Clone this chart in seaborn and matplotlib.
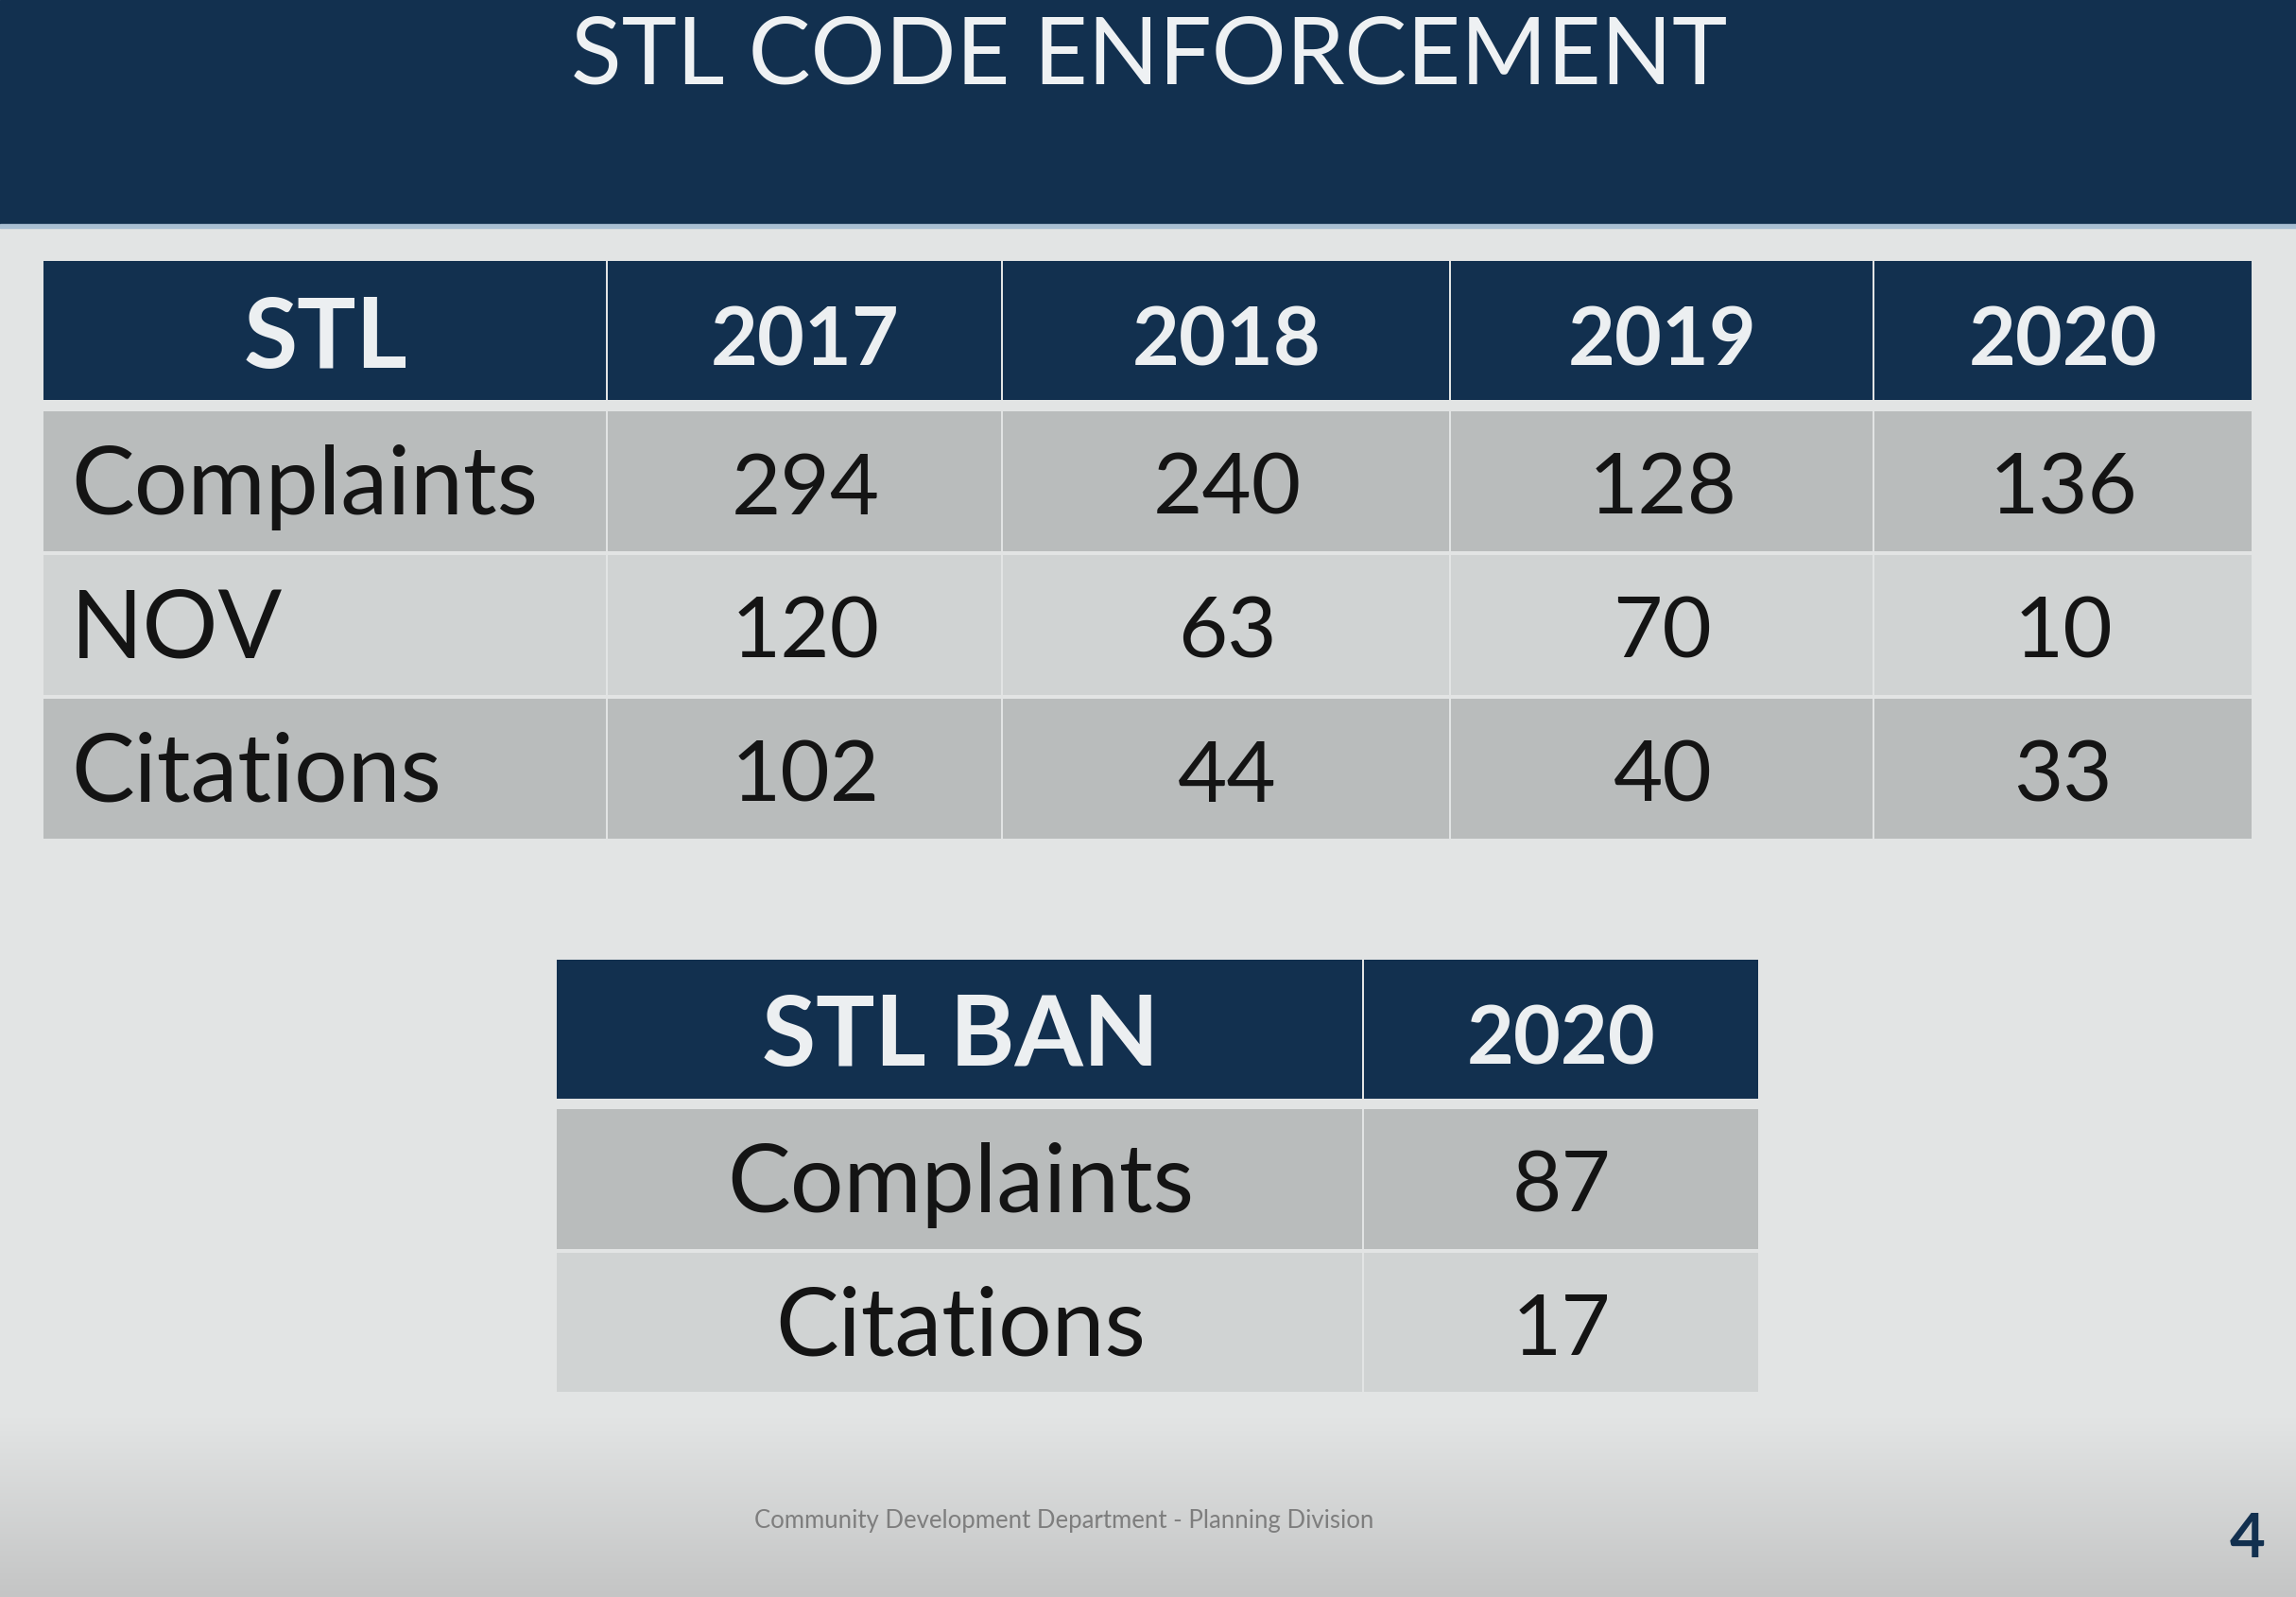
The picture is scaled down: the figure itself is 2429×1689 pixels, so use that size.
import numpy as np
import matplotlib.pyplot as plt
from matplotlib.colors import ListedColormap, LinearSegmentedColormap
from matplotlib.patches import Rectangle
import seaborn as sns

# ---- data ----
title = "STL CODE ENFORCEMENT"
footer = "Community Development Department - Planning Division"
page_number = "4"

stl_header = "STL"
years = ["2017", "2018", "2019", "2020"]
measures = ["Complaints", "NOV", "Citations"]
complaints = [294, 240, 128, 136]
nov = [120, 63, 70, 10]
citations = [102, 44, 40, 33]

ban_header = "STL BAN"
ban_years = ["2020"]
ban_measures = ["Complaints", "Citations"]
ban_values = [87, 17]

# ---- style ----
NAVY = "#12304f"
DARK = "#b9bcbc"
LIGHT = "#d0d3d3"
BG = "#e2e4e4"
HEAD_TXT = "#eceff1"
BODY_TXT = "#141414"
shade_cmap = ListedColormap([NAVY, DARK, LIGHT])  # 0 header, 1 dark row, 2 light row

W, H, DPI = 2429, 1689, 100
LW = 4 * 72 / DPI   # 4px gaps between cells
PAD = 2

sns.set_theme(style="white")
plt.rcParams["font.family"] = ["Lato", "DejaVu Sans"]

fig = plt.figure(figsize=(W / DPI, H / DPI), dpi=DPI)
fig.patch.set_facecolor(BG)

bg = fig.add_axes([0, 0, 1, 1])
bg.imshow(np.linspace(0, 1, 256).reshape(-1, 1), extent=[0, W, H, 1500], aspect="auto",
          cmap=LinearSegmentedColormap.from_list("fade", [BG, "#c4c5c5"]), zorder=0)
bg.set_xlim(0, W)
bg.set_ylim(H, 0)
bg.axis("off")

# title band
bg.add_patch(Rectangle((0, 0), W, 240, color=NAVY, zorder=1))
bg.add_patch(Rectangle((0, 237), W, 4, color="#a9bfd3", zorder=1))
bg.text(1216, 88, title, ha="center", va="baseline", fontsize=71, color="#eef1f3", zorder=2)

# footer
bg.text(1126, 1616, footer, ha="center", va="baseline", fontsize=18.5, color="#7e7e7e", zorder=2)
bg.text(2378, 1647, page_number, ha="center", va="baseline", fontsize=47,
        fontweight="bold", color=NAVY, zorder=2)


def cell_axes(x0, x1, y0, y1):
    return fig.add_axes([(x0 - PAD) / W, 1 - (y1 + PAD) / H,
                         (x1 - x0 + 2 * PAD) / W, (y1 - y0 + 2 * PAD) / H])


def draw_block(x0, x1, y0, y1, texts, shades, size, weight, color, base_px,
               ha="center", left_px=0):
    ax = cell_axes(x0, x1, y0, y1)
    n = len(texts)
    sns.heatmap(np.array(shades).reshape(n, 1),
                annot=np.array([str(t) for t in texts], dtype=object).reshape(n, 1),
                fmt="", cmap=shade_cmap, vmin=-0.5, vmax=2.5, cbar=False,
                linewidths=LW, linecolor=BG, xticklabels=False, yticklabels=False,
                annot_kws={"fontsize": size, "fontweight": weight, "color": color}, ax=ax)
    per_px_y = n / (y1 - y0 + 2 * PAD)
    per_px_x = 1 / (x1 - x0 + 2 * PAD)
    for t in ax.texts:
        tx, ty = t.get_position()
        t.set_va("baseline")
        t.set_y(ty + base_px * per_px_y)
        if ha == "left":
            t.set_ha("left")
            t.set_x(left_px * per_px_x)
    return ax


# ---- table 1: STL ----
T1_X = [46, 643, 1061, 1535, 1983, 2382]
T1_HEAD = (276, 423)
T1_BODY = (435, 887)
t1_shades = [1, 2, 1]

draw_block(T1_X[0], T1_X[1], *T1_HEAD, [stl_header], [0], 75, "bold", HEAD_TXT, 39)
draw_block(T1_X[0], T1_X[1], *T1_BODY, measures, t1_shades, 72, "normal", BODY_TXT, 35,
           ha="left", left_px=75 - (T1_X[0] - PAD))
for j, yr in enumerate(years):
    draw_block(T1_X[j + 1], T1_X[j + 2], *T1_HEAD, [yr], [0], 62, "bold", HEAD_TXT, 37)
    draw_block(T1_X[j + 1], T1_X[j + 2], *T1_BODY,
               [complaints[j], nov[j], citations[j]], t1_shades, 65, "normal", BODY_TXT, 35)

# ---- table 2: STL BAN ----
T2_X = [589, 1443, 1860]
T2_HEAD = (1015, 1162)
T2_BODY = (1173, 1472)
t2_shades = [1, 2]

draw_block(T2_X[0], T2_X[1], *T2_HEAD, [ban_header], [0], 75, "bold", HEAD_TXT, 39)
draw_block(T2_X[0], T2_X[1], *T2_BODY, ban_measures, t2_shades, 72, "normal", BODY_TXT, 35)
draw_block(T2_X[1], T2_X[2], *T2_HEAD, ban_years, [0], 62, "bold", HEAD_TXT, 37)
draw_block(T2_X[1], T2_X[2], *T2_BODY, ban_values, t2_shades, 65, "normal", BODY_TXT, 35)

fig.savefig("out.png", dpi=DPI)
